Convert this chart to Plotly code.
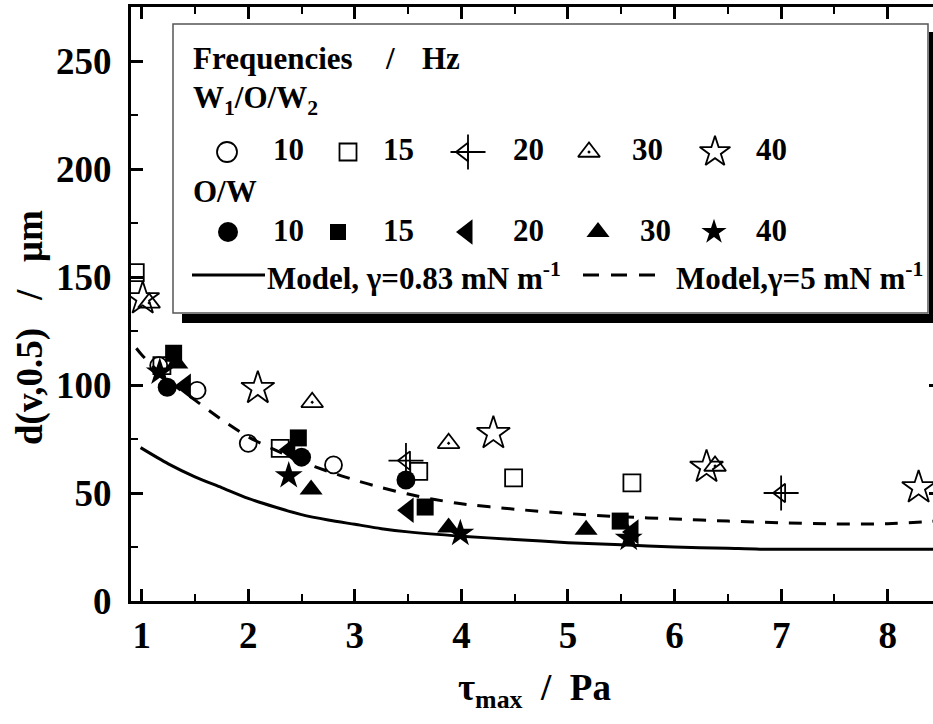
import plotly.graph_objects as go

# ---------------- data ----------------
# W1/O/W2 (open symbols)
wow10_x = [1.16, 1.52, 2.0, 2.8]
wow10_y = [109, 97.5, 73, 63]
wow15_x = [0.94, 1.19, 2.3, 3.6, 4.49, 5.6]
wow15_y = [152, 109, 70.7, 60, 57, 54.7]
wow20_x = [3.48, 7.0]
wow20_y = [65, 50]
wow30_x = [1.07, 2.6, 3.88, 6.38]
wow30_y = [138, 92, 73, 62.5]
wow40_x = [1.01, 2.09, 4.3, 6.3, 8.29]
wow40_y = [140, 98.5, 77.6, 62, 52.5]

# O/W (filled symbols)
ow10_x = [1.24, 2.5, 3.48]
ow10_y = [99, 66.6, 56]
ow15_x = [1.30, 2.47, 3.66, 5.49]
ow15_y = [114.7, 75.5, 43.5, 37]
ow20_x = [1.41, 2.39, 3.5, 5.61]
ow20_y = [99.5, 70, 42, 32]
ow30_x = [1.33, 2.59, 3.88, 5.17]
ow30_y = [110, 51.6, 34, 33]
ow40_x = [1.17, 2.38, 3.99, 5.57]
ow40_y = [106, 58, 31.3, 29]

# Model curves
model1_x = [0.99, 1.25, 1.5, 1.75, 2.0, 2.25, 2.5, 2.75, 3.0, 3.25, 3.5, 4.0, 4.5, 5.0, 5.5, 6.0, 6.5, 6.8, 7.5, 8.5]
model1_y = [71, 63.5, 57.5, 52.5, 47.5, 43.5, 40, 37.5, 35.5, 33.5, 32, 30, 28.5, 27, 26, 25, 24.4, 24, 24, 24]
model2_x = [0.95, 1.0, 1.25, 1.5, 1.75, 2.0, 2.25, 2.5, 2.75, 3.0, 3.25, 3.5, 3.75, 4.0, 4.5, 5.0, 5.5, 6.0, 6.5, 7.0, 7.5, 8.0, 8.5]
model2_y = [117, 114, 102, 93, 84, 76, 70, 64.5, 60, 56, 52.5, 49.5, 47, 45, 42.5, 40.5, 39, 38, 37, 36.2, 35.7, 35.8, 37.2]

x_ticks = [1, 2, 3, 4, 5, 6, 7, 8]
y_ticks = [0, 50, 100, 150, 200, 250]

FONT = "Liberation Serif"
BLK = "black"

# plot-area frame in page pixels (right part runs past the visible window, as in the reference)
L, R, T, B = 131, 941, 7, 601
W, H = 943, 724

fig = go.Figure()

def add_pts(x, y, symbol, size, open_=True, xa="x", ya="y", lw=1.8):
    if open_:
        marker = dict(symbol=symbol, size=size, color=BLK, line=dict(color=BLK, width=lw))
    else:
        marker = dict(symbol=symbol, size=size, color=BLK, line=dict(width=0))
    fig.add_trace(go.Scatter(x=x, y=y, mode="markers", marker=marker,
                             xaxis=xa, yaxis=ya, showlegend=False, hoverinfo="skip",
                             cliponaxis=False if xa == "x2" else True))

# model lines
fig.add_trace(go.Scatter(x=model1_x, y=model1_y, mode="lines",
                         line=dict(color=BLK, width=3, shape="spline", smoothing=0.8),
                         showlegend=False))
fig.add_trace(go.Scatter(x=model2_x, y=model2_y, mode="lines",
                         line=dict(color=BLK, width=3, dash="13px,11px", shape="spline", smoothing=0.8),
                         showlegend=False))

# open symbols
add_pts(wow10_x, wow10_y, "circle-open", 17)
add_pts(wow15_x, wow15_y, "square-open", 17)
add_pts(wow20_x, wow20_y, "triangle-left-open", 16)
add_pts(wow20_x, wow20_y, "cross-thin-open", 25)
add_pts(wow30_x, wow30_y, "triangle-up-open-dot", 19)
add_pts(wow40_x, wow40_y, "star-open", 25)
# filled symbols
add_pts(ow10_x, ow10_y, "circle", 19, open_=False)
add_pts(ow15_x, ow15_y, "square", 17, open_=False)
add_pts(ow20_x, ow20_y, "triangle-left", 22, open_=False)
add_pts(ow30_x, ow30_y, "triangle-up", 20, open_=False)
add_pts(ow40_x, ow40_y, "star", 21, open_=False)

# ---------------- legend (drawn in a pixel frame on an auxiliary axis) ----------------
r3, r5, r6 = 152, 232, 275
add_pts([227], [r3], "circle-open", 20, xa="x2", ya="y2")
add_pts([348], [r3], "square-open", 17, xa="x2", ya="y2")
add_pts([464], [r3], "triangle-left-open", 16, xa="x2", ya="y2")
add_pts([468], [r3], "cross-thin-open", 25, xa="x2", ya="y2")
add_pts([589], [r3], "triangle-up-open-dot", 19, xa="x2", ya="y2")
add_pts([715], [r3], "star-open", 23, xa="x2", ya="y2")
add_pts([228], [r5], "circle", 20, open_=False, xa="x2", ya="y2")
add_pts([338], [r5], "square", 16, open_=False, xa="x2", ya="y2")
add_pts([467], [r5], "triangle-left", 22, open_=False, xa="x2", ya="y2")
add_pts([598], [r5], "triangle-up", 20, open_=False, xa="x2", ya="y2")
add_pts([714], [r5], "star", 19, open_=False, xa="x2", ya="y2")
fig.add_trace(go.Scatter(x=[192, 265], y=[r6, r6], mode="lines", line=dict(color=BLK, width=3),
                         xaxis="x2", yaxis="y2", showlegend=False, hoverinfo="skip"))
fig.add_trace(go.Scatter(x=[583, 666], y=[r6, r6], mode="lines",
                         line=dict(color=BLK, width=3, dash="16px,12px"),
                         xaxis="x2", yaxis="y2", showlegend=False, hoverinfo="skip"))

LF = dict(family=FONT, size=31, color=BLK, weight="bold")
def ltext(x, y, t, anchor="left"):
    fig.add_annotation(x=x, y=y, xref="x2", yref="y2", text=t, showarrow=False,
                       xanchor=anchor, yanchor="middle", font=LF)

ltext(191, 58, "Frequencies")
ltext(390, 58, "/", "center")
ltext(420, 58, "Hz")
ltext(191, 100, "W<sub>1</sub>/O/W<sub>2</sub>")
for x, t in [(271, "10"), (381, "15"), (511, "20"), (630, "30"), (754, "40")]:
    ltext(x, 149, t)
ltext(191, 191, "O/W")
for x, t in [(271, "10"), (381, "15"), (511, "20"), (638, "30"), (754, "40")]:
    ltext(x, 230, t)
ltext(265, 276, "Model, γ=0.83 mN m<sup>-1</sup>")
ltext(674, 276, "Model,γ=5 mN m<sup>-1</sup>")

# legend box + shadow (paper coords)
def px2p(px, py):
    return (px - L) / (R - L), (B - py) / (B - T)
x0, y0 = px2p(173, 24)
x1, y1 = px2p(928, 313)
fig.add_shape(type="rect", xref="paper", yref="paper", x0=x0, y0=y1, x1=x1, y1=y0,
              fillcolor="white", line=dict(color="#555555", width=1.5), layer="below")
sx0, sy0 = px2p(182, 314)
sx1, sy1 = px2p(937, 323)
fig.add_shape(type="rect", xref="paper", yref="paper", x0=sx0, y0=sy1, x1=sx1, y1=sy0,
              fillcolor=BLK, line=dict(width=0), layer="above")
rx0, ry0 = px2p(929, 32)
rx1, ry1 = px2p(937, 323)
fig.add_shape(type="rect", xref="paper", yref="paper", x0=rx0, y0=ry1, x1=rx1, y1=ry0,
              fillcolor=BLK, line=dict(width=0), layer="above")

TF = dict(family=FONT, size=37, color=BLK, weight="bold")
axis_common = dict(showline=True, linewidth=3, linecolor=BLK, mirror="ticks",
                   ticks="inside", ticklen=12, tickwidth=2.5, tickcolor=BLK,
                   showgrid=False, zeroline=False, tickfont=TF, automargin=False)
fig.update_layout(
    width=W, height=H,
    margin=dict(l=L, r=W - R, t=T, b=H - B, autoexpand=False),
    plot_bgcolor="white", paper_bgcolor="white",
    xaxis=dict(range=[0.9, 8.5], tickvals=x_ticks, ticktext=[str(v) for v in x_ticks],
               minor=dict(dtick=0.5, tick0=0.5, ticks="inside", ticklen=7, tickwidth=2, tickcolor=BLK),
               **axis_common),
    yaxis=dict(range=[0, 275], tickvals=y_ticks, ticktext=[str(v) for v in y_ticks],
               ticklabelstandoff=9,
               minor=dict(dtick=25, tick0=0, ticks="inside", ticklen=7, tickwidth=2, tickcolor=BLK),
               **axis_common),
    xaxis2=dict(range=[L, R], overlaying="x", visible=False, automargin=False),
    yaxis2=dict(range=[B, T], overlaying="y", visible=False, automargin=False),
    showlegend=False,
)

# axis titles
fig.add_annotation(x=(534 - L) / (R - L), y=(B - 690) / (B - T), xref="paper", yref="paper",
                   text="τ<sub>max</sub>\u00a0\u00a0/\u00a0\u00a0Pa", showarrow=False,
                   xanchor="center", yanchor="middle", font=TF)
fig.add_annotation(x=(30 - L) / (R - L), y=(B - 328) / (B - T), xref="paper", yref="paper",
                   text="d(v,0.5)\u00a0\u00a0\u00a0/\u00a0\u00a0\u00a0μm", showarrow=False, textangle=-90,
                   xanchor="center", yanchor="middle", font=TF)

fig.write_html("out.html", config={"displayModeBar": False},
               post_script="document.body.style.margin='0';document.body.style.overflow='hidden';"
                           "document.documentElement.style.overflow='hidden';")
